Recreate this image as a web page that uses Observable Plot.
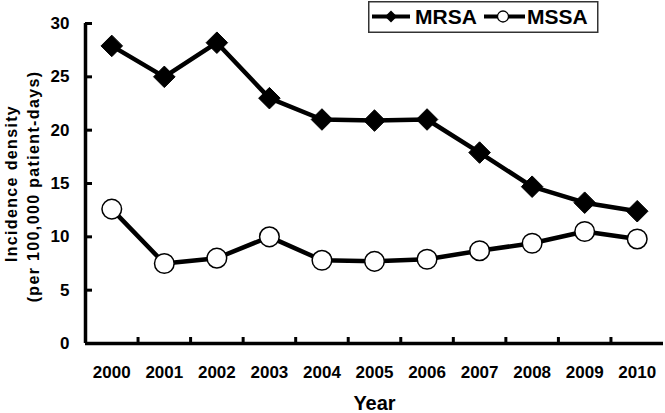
<!DOCTYPE html>
<html>
<head>
<meta charset="utf-8">
<script src="https://cdn.jsdelivr.net/npm/d3@7"></script>
<script src="https://cdn.jsdelivr.net/npm/@observablehq/plot@0.6"></script>
<style>
  html, body { margin: 0; padding: 0; background: #fff; }
  #wrap { position: relative; width: 665px; height: 413px; font-family: "Liberation Sans", Arial, sans-serif; }
  #legend { position: absolute; left: 368px; top: 1px; }
</style>
</head>
<body>
<div id="wrap"></div>
<script>
const years = [2000, 2001, 2002, 2003, 2004, 2005, 2006, 2007, 2008, 2009, 2010];
const mrsa  = [27.9, 25.0, 28.2, 23.0, 21.0, 20.9, 21.0, 17.9, 14.7, 13.2, 12.4];
const mssa  = [12.6, 7.5, 8.0, 10.0, 7.8, 7.7, 7.9, 8.7, 9.4, 10.5, 9.8];
const yTicks = [0, 5, 10, 15, 20, 25, 30];
const seriesNames = ["MRSA", "MSSA"];
const yLabelLines = ["Incidence density", "(per 100,000 patient-days)"];
const xLabel = "Year";

const rows = [];
years.forEach((yr, i) => {
  rows.push({year: yr, value: mrsa[i], series: seriesNames[0]});
  rows.push({year: yr, value: mssa[i], series: seriesNames[1]});
});
const mrsaRows = rows.filter(d => d.series === "MRSA");
const mssaRows = rows.filter(d => d.series === "MSSA");
const xMin = years[0] - 0.5, xMax = years[years.length - 1] + 0.5;
const boundaries = years.slice(1).map(y => y - 0.5);

const chart = Plot.plot({
  width: 665,
  height: 413,
  marginLeft: 85,
  marginRight: 2,
  marginTop: 23,
  marginBottom: 70,
  style: {fontFamily: '"Liberation Sans", Arial, sans-serif', fontWeight: "bold", fontSize: "17px", color: "#000", background: "#fff"},
  x: {domain: [xMin, xMax], axis: null},
  y: {domain: [0, 30], axis: null},
  marks: [
    // tick labels
    Plot.axisY({ticks: yTicks, tickSize: 0, tickPadding: 16, label: null, fontSize: 17}),
    Plot.axisY({ticks: yTicks, tickSize: -7, tickFormat: () => "", label: null, strokeWidth: 3}),
    Plot.axisX({ticks: years, tickSize: 0, tickPadding: 22, tickFormat: d => String(d), label: null, fontSize: 17}),
    Plot.axisX({ticks: boundaries, tickSize: -6, tickFormat: () => "", label: null, strokeWidth: 3}),
    // axis lines
    Plot.ruleY([0], {stroke: "#000", strokeWidth: 3.5}),
    Plot.ruleX([xMin], {stroke: "#000", strokeWidth: 3.5}),
    // series
    Plot.line(mrsaRows, {x: "year", y: "value", stroke: "#000", strokeWidth: 4.5}),
    Plot.line(mssaRows, {x: "year", y: "value", stroke: "#000", strokeWidth: 4.5}),
    Plot.dot(mrsaRows, {x: "year", y: "value", symbol: "diamond2", r: 9.7, fill: "#000", stroke: "#000", strokeWidth: 1}),
    Plot.dot(mssaRows, {x: "year", y: "value", symbol: "circle", r: 9.8, fill: "#fff", stroke: "#000", strokeWidth: 1.5}),
    // axis titles
    Plot.text([yLabelLines[0]], {text: d => d, frameAnchor: "left", textAnchor: "middle", rotate: -90, dx: -74, dy: 0, fontSize: 16, fontWeight: "bold"}),
    Plot.text([yLabelLines[1]], {text: d => d, frameAnchor: "left", textAnchor: "middle", rotate: -90, dx: -52, dy: 3, fontSize: 16, fontWeight: "bold"}),
    Plot.text([xLabel], {text: d => d, frameAnchor: "bottom", lineAnchor: "middle", dy: 60, fontSize: 20, fontWeight: "bold"})
  ]
});
document.getElementById("wrap").appendChild(chart);
d3.select(chart).selectAll("text")
  .filter(function() { return yLabelLines.includes(this.textContent); })
  .style("letter-spacing", "1.35px");

// legend
const lg = d3.select("#wrap").append("svg").attr("id", "legend").attr("width", 232).attr("height", 33);
lg.append("rect").attr("x", 0.75).attr("y", 0.75).attr("width", 229).attr("height", 30.5)
  .attr("fill", "#fff").attr("stroke", "#333").attr("stroke-width", 1.5);
// MRSA item
lg.append("line").attr("x1", 4).attr("x2", 42).attr("y1", 15.5).attr("y2", 15.5).attr("stroke", "#000").attr("stroke-width", 4);
lg.append("path").attr("d", "M23,9.5 L29,15.5 L23,21.5 L17,15.5 Z").attr("fill", "#000");
lg.append("text").attr("x", 47).attr("y", 23).text(seriesNames[0])
  .attr("font-family", '"Liberation Sans", Arial, sans-serif').attr("font-weight", "bold").attr("font-size", 21);
// MSSA item
lg.append("line").attr("x1", 116).attr("x2", 157).attr("y1", 15.5).attr("y2", 15.5).attr("stroke", "#000").attr("stroke-width", 4);
lg.append("circle").attr("cx", 135).attr("cy", 15.5).attr("r", 5.5).attr("fill", "#fff").attr("stroke", "#000").attr("stroke-width", 1.3);
lg.append("text").attr("x", 159).attr("y", 23).text(seriesNames[1])
  .attr("font-family", '"Liberation Sans", Arial, sans-serif').attr("font-weight", "bold").attr("font-size", 21);
</script>
</body>
</html>
